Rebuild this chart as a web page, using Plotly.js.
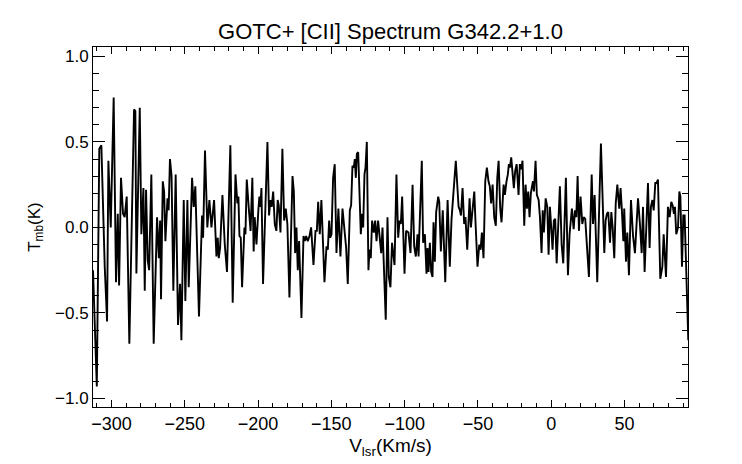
<!DOCTYPE html>
<html>
<head>
<meta charset="utf-8">
<script src="https://cdn.plot.ly/plotly-3.0.1.min.js"></script>
<style>
html,body{margin:0;padding:0;background:#fff;}
#chart{width:742px;height:464px;}
</style>
</head>
<body>
<div id="chart"></div>
<script>
// Velocity (km/s) of each channel
var velocity = [
-312.6,-310.0,-308.3,-306.9,-304.6,-303.0,-302.1,-300.5,-298.5,-296.9,-295.7,-294.8,-293.5,-292.1,-291.0,-289.6,-287.8,-286.2,-284.6,-283.7,-283.0,-280.7,-279.6,-278.2,-277.3,-276.4,-275.3,-274.3,-272.8,-271.2,-268.9,-267.7,-266.8,-266.2,-265.0,-264.1,-263.2,-261.8,-261.0,-260.1,-259.0,-257.8,-256.2,-254.6,-253.2,-252.3,-250.7,-249.6,-248.2,-247.3,-245.0,-243.9,-242.8,-240.3,-238.9,-238.2,-237.5,-236.2,-234.6,-233.2,-231.8,-230.0,-228.4,-227.5,-226.8,-225.9,-224.3,-222.7,-221.2,-218.9,-217.3,-215.4,-214.1,-213.4,-212.7,-211.8,-210.9,
-209.3,-208.6,-207.7,-206.4,-205.1,-203.9,-203.0,-202.3,-201.1,-199.8,-199.1,-198.4,-197.7,-196.6,-195.4,-193.6,-192.5,-191.6,-190.7,-189.7,-188.6,-187.5,-186.6,-185.9,-184.7,-183.4,-182.2,-181.1,-180.0,-178.6,-176.5,-175.6,-174.7,-173.8,-172.9,-172.0,-170.4,-169.0,-168.1,-167.2,-166.1,-164.9,-163.8,-162.2,-160.8,-159.9,-159.0,-157.9,-156.8,-155.8,-154.7,-153.3,-152.4,-151.5,-150.8,-149.9,-148.8,-147.7,-146.5,-145.2,-143.8,-142.4,-141.1,-139.9,-138.8,-137.4,-136.5,-135.6,-134.7,-134.0,-133.3,-132.6,-131.7,-130.4,-129.9,-129.0,-128.3,-127.4,-126.7,-125.8,-124.7,-124.0,-123.1,-122.2,-121.0,-120.1,-119.2,-118.1,-116.9,-116.0,-115.1,-114.0,-112.9,-111.7,-110.8,-109.7,-108.6,
-106.9,-105.6,-104.4,-103.5,-102.6,-101.7,-100.1,-99.0,-97.4,-96.0,-94.6,-93.5,-92.4,-91.2,-90.5,-89.6,-88.3,-87.4,-86.2,-85.1,-84.4,-83.7,-82.8,-81.9,-81.0,-80.3,-79.4,-78.5,-77.1,-76.4,-75.3,-74.0,-72.3,-70.7,-69.2,-68.0,-66.4,-65.1,-63.2,-62.3,-61.6,-60.5,-59.4,-58.5,-57.3,-55.7,-54.8,-53.8,-52.5,-51.6,-50.3,-49.1,-48.2,-47.3,-46.2,-45.0,-43.9,-42.8,-41.9,-41.0,-40.0,-38.9,-37.8,-36.8,-35.9,-34.8,-33.9,-32.5,-31.6,-30.5,-29.6,-28.9,-28.2,-27.3,-26.4,-25.5,-24.6,-23.6,-23.0,-22.3,-21.4,-20.5,-19.6,-18.4,-17.5,-16.6,-15.7,-14.8,-13.9,-12.5,-11.8,-10.7,-9.8,-8.6,-7.7,-6.6,-5.8,
-5.0,-3.8,-2.7,-1.8,-0.9,0.0,0.9,1.8,2.7,3.7,4.8,5.9,7.1,8.2,10.0,11.4,12.5,14.1,15.3,16.2,17.1,18.0,18.9,20.0,21.2,22.1,23.2,24.4,25.7,27.6,28.5,29.6,31.4,32.6,33.9,36.2,37.1,38.0,38.9,40.1,41.0,41.9,43.0,44.0,45.1,46.4,47.3,48.2,49.2,49.8,51.0,51.9,53.0,54.4,55.8,57.1,59.2,60.5,61.7,62.6,63.7,66.0,67.1,68.0,69.0,69.9,71.0,71.9,72.8,74.4,75.8,76.7,78.3,79.6,80.8,81.9,82.8,83.7,84.4,85.3,86.5,87.4,88.1,89.2,90.1,91.0,91.7,92.8,93.5
];
// Main-beam temperature (K) of each channel
var tmb = [
-0.25,-0.93,0.46,0.48,-0.23,-0.55,0.39,0.00,0.76,-0.32,0.08,-0.34,0.29,0.08,0.06,0.18,-0.68,-0.05,0.69,0.68,-0.27,0.70,-0.04,0.23,-0.37,0.22,-0.19,-0.25,0.31,-0.68,0.06,-0.18,0.04,-0.42,0.27,0.21,-0.08,0.17,0.10,0.40,0.30,-0.37,0.31,-0.57,-0.33,-0.66,0.16,-0.43,0.16,-0.35,0.29,0.12,0.24,-0.52,-0.06,0.07,-0.06,0.45,0.00,0.16,0.00,0.16,-0.17,-0.06,-0.18,-0.12,0.19,-0.10,-0.26,0.48,-0.44,0.31,0.14,0.18,-0.05,-0.06,-0.35,
0.00,-0.04,0.28,0.12,-0.02,0.29,-0.14,0.06,-0.10,0.10,0.18,0.12,0.23,-0.33,0.01,0.50,0.07,0.16,0.12,0.21,0.02,-0.02,0.16,0.13,-0.03,0.46,0.04,0.11,0.02,-0.41,0.30,0.21,-0.15,0.00,-0.25,-0.08,-0.53,-0.05,-0.08,-0.05,-0.08,-0.05,0.00,-0.22,-0.02,-0.02,0.15,-0.04,0.16,-0.08,-0.32,-0.11,-0.13,0.04,-0.06,-0.04,0.29,0.37,-0.15,0.11,-0.17,0.11,0.00,-0.12,-0.33,0.10,0.13,0.36,0.35,0.40,0.29,0.43,0.44,0.00,-0.04,0.08,0.00,0.31,0.35,0.50,-0.25,-0.13,-0.18,0.04,-0.03,0.04,-0.08,0.04,-0.10,-0.15,0.00,-0.29,-0.54,0.06,-0.29,-0.35,-0.09,
-0.22,0.31,-0.06,0.04,0.02,0.18,-0.27,-0.02,-0.03,-0.15,0.25,-0.11,-0.17,-0.04,-0.17,0.08,0.39,-0.09,-0.04,-0.27,-0.12,-0.26,-0.09,-0.26,-0.29,0.03,-0.20,0.09,0.18,0.15,-0.14,0.10,-0.32,0.16,-0.23,0.05,0.27,0.39,0.12,0.10,0.07,0.23,0.02,0.06,-0.13,0.17,0.00,0.10,0.21,0.02,-0.23,-0.10,-0.13,-0.03,-0.18,0.27,0.35,0.27,0.24,0.14,0.25,0.06,0.01,0.29,0.39,0.11,0.03,0.25,0.19,0.27,0.31,0.37,0.35,0.41,0.29,0.23,0.33,0.37,0.29,0.19,0.37,0.34,0.39,0.01,0.25,0.11,0.21,0.06,0.20,0.27,0.21,0.39,0.19,0.16,0.06,-0.15,0.10,
-0.03,0.17,0.12,-0.16,0.12,0.00,-0.13,0.04,0.05,-0.21,0.04,0.24,-0.10,-0.21,0.29,-0.28,-0.04,0.11,-0.01,0.10,0.06,0.30,-0.02,0.18,0.02,0.06,0.05,-0.15,-0.29,0.31,0.02,0.19,-0.32,0.08,0.49,-0.15,0.04,0.08,0.09,-0.09,0.09,0.00,-0.18,0.14,0.25,0.11,0.23,0.10,-0.08,0.11,-0.20,-0.03,-0.28,0.16,-0.05,-0.15,0.17,0.02,-0.15,0.12,-0.26,0.26,-0.12,0.12,0.16,0.10,0.26,0.26,0.28,-0.30,-0.23,-0.04,-0.29,0.12,0.06,0.15,0.13,0.08,0.12,-0.04,0.00,0.21,0.18,-0.23,0.07,0.07,-0.10,-0.39,-0.66
];

var titleText = 'GOTC+ [CII] Spectrum G342.2+1.0';
var xTitle = 'V<sub>lsr</sub>(Km/s)';
var yTitle = 'T<sub>mb</sub>(K)';
var xRange = [-312.6, 93.3];
var yRange = [-1.05, 1.055];

var font = '"Liberation Sans", Arial, Helvetica, sans-serif';

var trace = {
  x: velocity,
  y: tmb,
  type: 'scatter',
  mode: 'lines',
  line: {color: '#000', width: 1.9},
  hoverinfo: 'skip'
};
// same data on the mirrored (top/right) axes, invisible, so those axes draw their ticks
var mirrorTrace = {
  x: velocity,
  y: tmb,
  xaxis: 'x2',
  yaxis: 'y2',
  type: 'scatter',
  mode: 'lines',
  opacity: 0,
  line: {color: '#000', width: 1},
  hoverinfo: 'skip'
};

function xTicks(side) {
  return {
    range: xRange, autorange: false,
    tick0: 0, dtick: 50,
    ticks: 'inside', ticklen: 7, tickwidth: 1, tickcolor: '#000',
    minor: {dtick: 10, tick0: 0, ticks: 'inside', ticklen: 3.6, tickwidth: 1, tickcolor: '#000', showgrid: false},
    showline: true, linecolor: '#000', linewidth: 1,
    showgrid: false, zeroline: false, side: side
  };
}
function yTicks(side) {
  return {
    range: yRange, autorange: false,
    tick0: 0, dtick: 0.5, tickformat: '.1f',
    ticks: 'inside', ticklen: 12, tickwidth: 1, tickcolor: '#000',
    minor: {dtick: 0.1, tick0: 0, ticks: 'inside', ticklen: 6, tickwidth: 1, tickcolor: '#000', showgrid: false},
    showline: true, linecolor: '#000', linewidth: 1,
    showgrid: false, zeroline: false, side: side
  };
}

var xaxis = xTicks('bottom');
xaxis.tickfont = {family: font, size: 18, color: '#000'};
xaxis.title = {text: xTitle, font: {family: font, size: 19, color: '#000'}, standoff: 6};

var yaxis = yTicks('left');
yaxis.tickfont = {family: font, size: 17, color: '#000'};
yaxis.title = {text: yTitle, font: {family: font, size: 17, color: '#000'}, standoff: 10};

var xaxis2 = xTicks('top');
xaxis2.overlaying = 'x';
xaxis2.anchor = 'y';
xaxis2.showticklabels = false;

var yaxis2 = yTicks('right');
yaxis2.overlaying = 'y';
yaxis2.anchor = 'x';
yaxis2.showticklabels = false;

var layout = {
  width: 742,
  height: 464,
  margin: {l: 93, r: 54, t: 47, b: 57},
  paper_bgcolor: '#fff',
  plot_bgcolor: '#fff',
  showlegend: false,
  font: {family: font, color: '#000', size: 18},
  title: {
    text: titleText,
    font: {family: font, size: 22, color: '#000'},
    x: 0.5, xref: 'paper', xanchor: 'center',
    y: 0.932, yref: 'container', yanchor: 'middle'
  },
  xaxis: xaxis,
  yaxis: yaxis,
  xaxis2: xaxis2,
  yaxis2: yaxis2
};

Plotly.newPlot('chart', [trace, mirrorTrace], layout, {staticPlot: true, displayModeBar: false});
</script>
</body>
</html>
